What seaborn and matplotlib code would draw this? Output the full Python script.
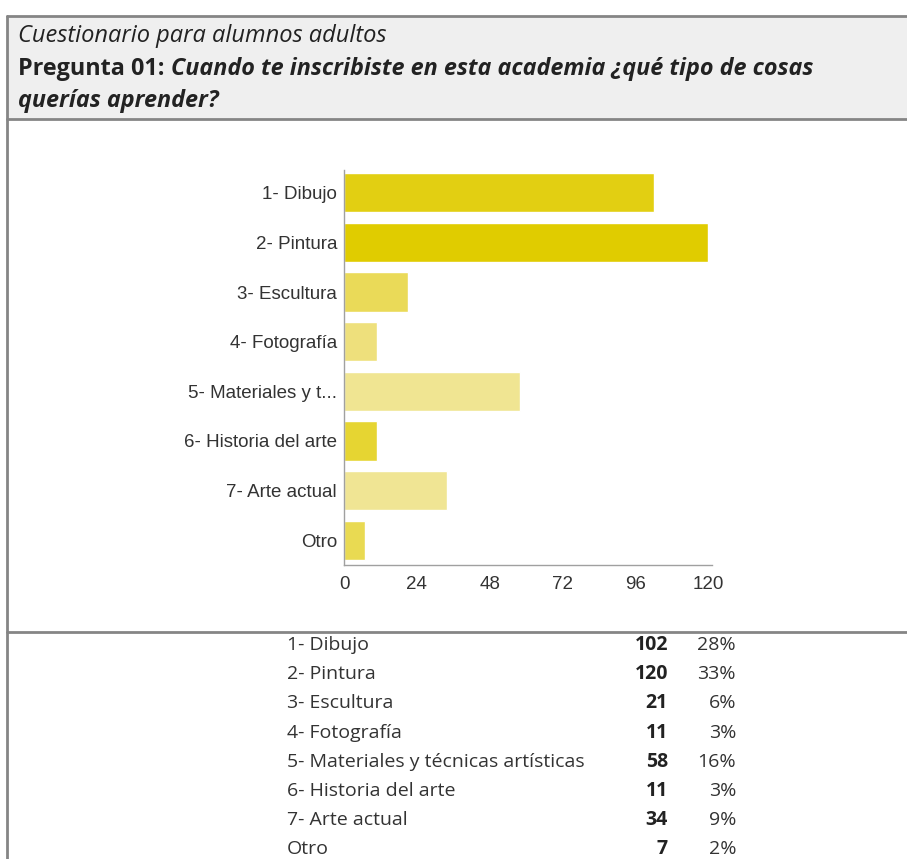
import matplotlib
matplotlib.use("Agg")
import matplotlib.pyplot as plt
import seaborn as sns
import pandas as pd
from matplotlib.lines import Line2D
from matplotlib.patches import Rectangle

# Survey answers
chart_labels = ["1- Dibujo", "2- Pintura", "3- Escultura", "4- Fotografía",
                "5- Materiales y t...", "6- Historia del arte", "7- Arte actual", "Otro"]
table_labels = ["1- Dibujo", "2- Pintura", "3- Escultura", "4- Fotografía",
                "5- Materiales y técnicas artísticas", "6- Historia del arte",
                "7- Arte actual", "Otro"]
counts = [102, 120, 21, 11, 58, 11, 34, 7]
bar_colors = ["#e2cf12", "#e0cc00", "#eada58", "#eee07c", "#f0e592",
              "#e6d532", "#f0e594", "#e9da52"]
x_ticks = [0, 24, 48, 72, 96, 120]

title_line = "Cuestionario para alumnos adultos"
question_prefix = "Pregunta 01: "
question_text = "Cuando te inscribiste en esta academia ¿qué tipo de cosas"
question_text2 = "querías aprender?"

sns.set_style("white")
plt.rcParams["font.family"] = ["Liberation Sans", "DejaVu Sans"]

W, H = 907, 859
fig = plt.figure(figsize=(W / 100, H / 100), dpi=100)
fig.patch.set_facecolor("white")


def fx(px):
    return px / W


def fy(py):
    return 1 - py / H


# Header band and frame lines
fig.add_artist(Rectangle((fx(7), fy(119)), fx(W) - fx(7), fy(16) - fy(119),
                         transform=fig.transFigure, facecolor="#efefef",
                         edgecolor="none", zorder=0))
line_kw = dict(transform=fig.transFigure, color="#858585", linewidth=2)
for py in (16, 119, 632):
    fig.add_artist(Line2D([fx(7), 1], [fy(py), fy(py)], **line_kw))
fig.add_artist(Line2D([fx(7), fx(7)], [fy(16), 0], **line_kw))

# Header text
head_font = ["Open Sans", "DejaVu Sans"]
fig.text(fx(18), fy(36), title_line, fontsize=17, style="italic",
         family=head_font, color="#222222", va="center")
t1 = fig.text(fx(18), fy(69), question_prefix, fontsize=16.8, weight="bold",
              family=head_font, color="#222222", va="center")
fig.canvas.draw()
bb = t1.get_window_extent()
fig.text(bb.x1 / W, fy(69), question_text, fontsize=16.8, weight="bold",
         style="italic", family=head_font, color="#222222", va="center")
fig.text(fx(18), fy(101), question_text2, fontsize=16.8, weight="bold",
         style="italic", family=head_font, color="#222222", va="center")

# Bar chart
ax = fig.add_axes([fx(344), fy(565), fx(712) - fx(344), fy(170) - fy(565)])
df = pd.DataFrame({"respuesta": chart_labels, "total": counts})
sns.barplot(data=df, x="total", y="respuesta", hue="respuesta",
            palette=bar_colors, legend=False, width=0.79, orient="h",
            saturation=1, ax=ax)
ax.set_xlim(0, 121.2)
ax.set_ylim(7.5, -0.46)
ax.set_xticks(x_ticks)
ax.set_xticklabels([str(t) for t in x_ticks])
ax.set_xlabel("")
ax.set_ylabel("")
ax.set_facecolor("none")
for side in ("top", "right"):
    ax.spines[side].set_visible(False)
for side in ("left", "bottom"):
    ax.spines[side].set_color("#a0a0a0")
    ax.spines[side].set_linewidth(1)
ax.tick_params(axis="x", length=0, pad=8, labelsize=13.5, labelcolor="#333333")
ax.tick_params(axis="y", length=3, width=0.8, color="#a0a0a0", pad=2,
               labelsize=13.5, labelcolor="#333333")

# Summary table
total = sum(counts)
row_y0, row_step = 645, 29.2
tab_font = ["Open Sans", "DejaVu Sans"]
for i, (lab, n) in enumerate(zip(table_labels, counts)):
    y = fy(row_y0 + i * row_step)
    fig.text(fx(287), y, lab, fontsize=14, family=tab_font,
             color="#333333", va="center", ha="left")
    fig.text(fx(668), y, str(n), fontsize=14, family=tab_font,
             weight="bold", color="#222222", va="center", ha="right")
    fig.text(fx(736), y, f"{round(100 * n / total)}%", fontsize=14,
             family=tab_font, color="#333333", va="center", ha="right")

fig.savefig("out.png", dpi=100)
